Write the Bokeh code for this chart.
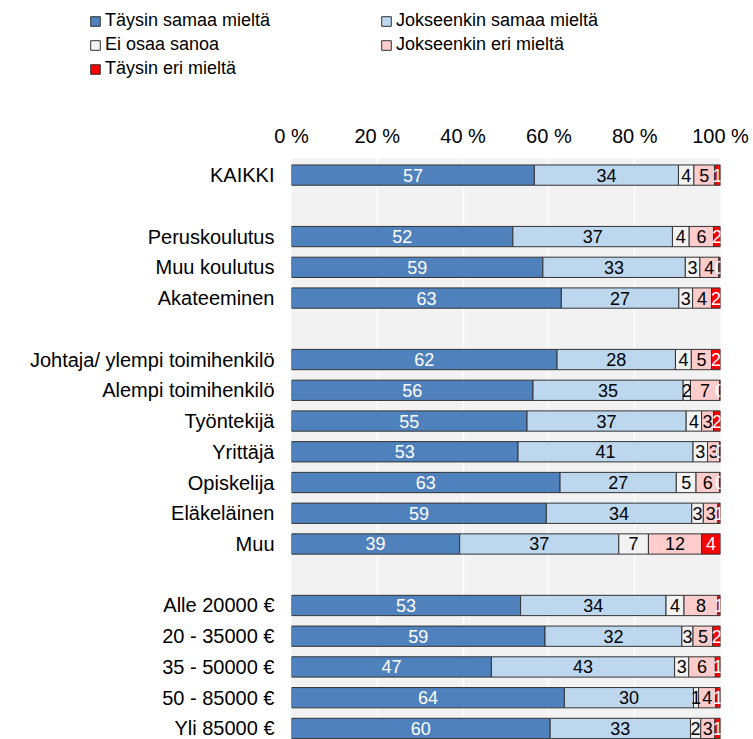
from bokeh.plotting import figure
from bokeh.models import ColumnDataSource, Range1d, FixedTicker, Legend, LegendItem
from bokeh.layouts import column
from bokeh.embed import file_html
from bokeh.resources import INLINE
from bokeh.core.properties import value

# ---------------- data ----------------
groups = [
    ["KAIKKI"],
    ["Peruskoulutus", "Muu koulutus", "Akateeminen"],
    ["Johtaja/ ylempi toimihenkilö", "Alempi toimihenkilö", "Työntekijä",
     "Yrittäjä", "Opiskelija", "Eläkeläinen", "Muu"],
    ["Alle 20000 €", "20 - 35000 €", "35 - 50000 €", "50 - 85000 €", "Yli 85000 €"],
]
series_names = ["Täysin samaa mieltä", "Jokseenkin samaa mieltä", "Ei osaa sanoa",
                "Jokseenkin eri mieltä", "Täysin eri mieltä"]

taysin_samaa = [56.6, 51.6, 58.6, 62.9, 61.9, 56.3, 54.9, 52.8, 62.6, 59.4, 39.2,
                53.4, 59.1, 46.6, 63.6, 60.3]
jokseenkin_samaa = [33.6, 37.2, 33.2, 27.4, 27.6, 35.0, 37.1, 40.8, 27.1, 33.9, 37.1,
                    33.9, 31.9, 42.7, 30.1, 32.7]
ei_osaa = [3.6, 3.9, 3.4, 3.2, 3.7, 1.7, 3.6, 3.4, 4.6, 2.7, 6.9,
           4.2, 2.6, 3.3, 1.2, 2.4]
jokseenkin_eri = [4.8, 5.7, 4.4, 4.4, 4.7, 6.8, 2.8, 2.8, 5.5, 3.4, 12.4,
                  7.9, 4.6, 6.2, 4.0, 3.3]
taysin_eri = [1.4, 1.6, 0.4, 2.1, 2.1, 0.2, 1.6, 0.2, 0.2, 0.6, 4.4,
              0.6, 1.8, 1.2, 1.1, 1.3]

x_ticks = [0, 20, 40, 60, 80, 100]
x_tick_labels = ["0 %", "20 %", "40 %", "60 %", "80 %", "100 %"]

colors = ["#4F81BD", "#BDD7EE", "#F2F2F2", "#FFCCCC", "#FF0000"]
label_colors = ["white", "black", "black", "black", "white"]
OUTLINE = "#333333"
FONT = "Liberation Sans"

# ---------------- rows (blank row between groups) ----------------
categories, rows = [], []
pos = 0
for g in groups:
    for c in g:
        categories.append(c)
        rows.append(pos)
        pos += 1
    pos += 1

series = [taysin_samaa, jokseenkin_samaa, ei_osaa, jokseenkin_eri, taysin_eri]
keys = ["s0", "s1", "s2", "s3", "s4"]
data = {"y": rows}
for k, s in zip(keys, series):
    data[k] = s
src = ColumnDataSource(data)

lx, ly, lt, lc = [], [], [], []
for i in range(len(categories)):
    start = 0.0
    for k, s in enumerate(series):
        v = s[i]
        lx.append(start + v / 2)
        ly.append(rows[i])
        lt.append(f"{round(v)}")
        lc.append(label_colors[k])
        start += v
lsrc = ColumnDataSource(dict(x=lx, y=ly, text=lt, color=lc))

# ---------------- legend strip (its own figure above the chart) ----------------
lf = figure(width=753, height=100, output_backend="svg", toolbar_location=None,
            x_axis_location=None, y_axis_location=None,
            x_range=Range1d(0, 1), y_range=Range1d(0, 1),
            min_border=0)
lf.frame_align = False
lf.outline_line_color = None
lf.background_fill_color = "white"
lf.border_fill_color = "white"
lf.grid.visible = False
handles = lf.hbar_stack(keys, y="y", height=0.66, color=colors, source=src,
                        line_color=OUTLINE, line_width=1)
for h in handles:
    h.visible = False

legend = Legend(items=[LegendItem(label=n, renderers=[h]) for n, h in zip(series_names, handles)],
                location=(89, 21), orientation="horizontal", ncols=2,
                label_text_font=FONT, label_text_font_size="18px",
                label_text_color="black",
                glyph_width=12, glyph_height=12, label_standoff=4,
                label_height=20, label_width=272, spacing=3, padding=0, margin=0,
                inactive_fill_alpha=0,
                border_line_color=None, background_fill_alpha=0)
lf.add_layout(legend, "center")

# ---------------- main figure ----------------
p = figure(width=753, height=639, output_backend="svg", toolbar_location=None,
           x_axis_location="above",
           x_range=Range1d(0, 100), y_range=Range1d(18.36, -0.54),
           min_border_left=291, min_border_right=33, min_border_top=58,
           min_border_bottom=0)
p.frame_align = False
p.background_fill_color = "#F2F2F2"
p.border_fill_color = "white"
p.outline_line_color = None

p.hbar_stack(keys, y="y", height=0.66, color=colors, source=src,
             line_color=OUTLINE, line_width=1)

p.text(x="x", y="y", text="text", source=lsrc, text_color="color",
       text_align="center", text_baseline="middle",
       text_font=value(FONT), text_font_size="18px")

p.xaxis.ticker = FixedTicker(ticks=x_ticks)
p.xaxis.major_label_overrides = {t: l for t, l in zip(x_ticks, x_tick_labels)}
p.xaxis.axis_line_color = None
p.xaxis.major_tick_line_color = None
p.xaxis.minor_tick_line_color = None
p.xaxis.major_tick_out = 0
p.xaxis.major_tick_in = 0
p.xaxis.major_label_standoff = 12
p.xaxis.major_label_text_font = FONT
p.xaxis.major_label_text_font_size = "20px"
p.xaxis.major_label_text_color = "black"

p.yaxis.ticker = FixedTicker(ticks=rows)
p.yaxis.major_label_overrides = {r: c for r, c in zip(rows, categories)}
p.yaxis.axis_line_color = None
p.yaxis.major_tick_line_color = None
p.yaxis.minor_tick_line_color = None
p.yaxis.major_tick_out = 0
p.yaxis.major_tick_in = 0
p.yaxis.major_label_standoff = 17
p.yaxis.major_label_text_font = FONT
p.yaxis.major_label_text_font_size = "20px"
p.yaxis.major_label_text_color = "black"

p.xgrid.grid_line_color = "white"
p.xgrid.grid_line_width = 1.5
p.ygrid.grid_line_color = None

open("out.html", "w").write(file_html(column(lf, p, spacing=0), INLINE))
